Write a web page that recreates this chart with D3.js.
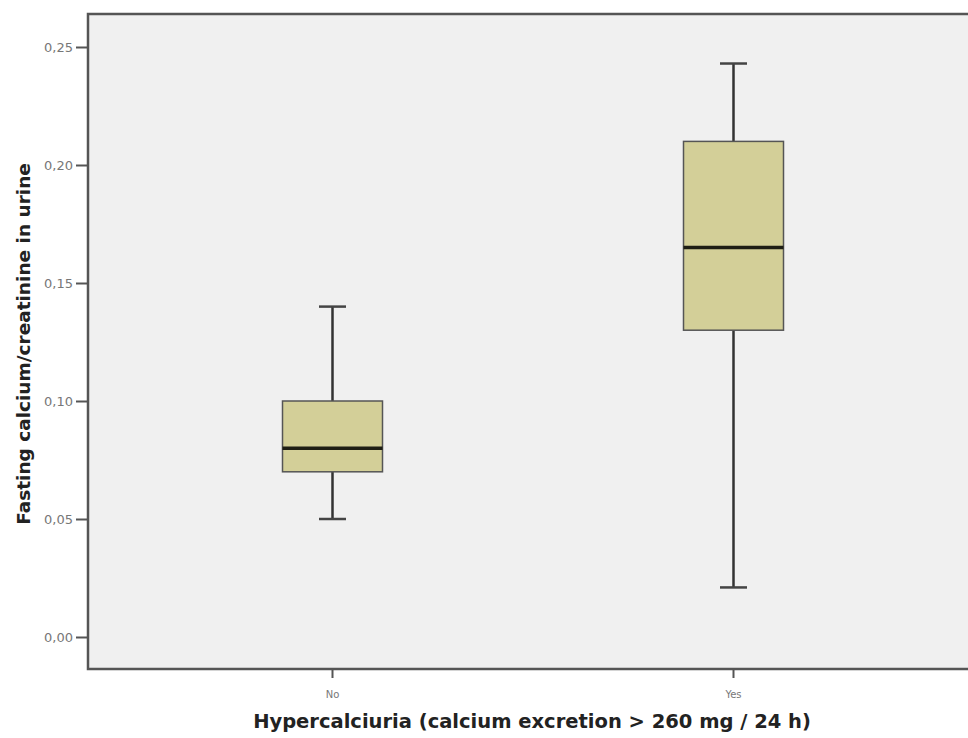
<!DOCTYPE html>
<html><head><meta charset="utf-8">
<script src="https://cdn.jsdelivr.net/npm/d3@7"></script>
<style>body{margin:0;background:#fff}svg{display:block}</style>
</head><body>
<svg id="c" width="968" height="738"></svg>
<script>
const categories = ["No", "Yes"];
const whiskerLow = [0.05, 0.021];
const q1 = [0.07, 0.13];
const median = [0.08, 0.165];
const q3 = [0.10, 0.21];
const whiskerHigh = [0.14, 0.243];
const yTicks = [0, 0.05, 0.10, 0.15, 0.20, 0.25];

const svg = d3.select("#c");
const L = 88, T = 14, R = 970, B = 669;
const y = d3.scaleLinear().domain([0, 0.25]).range([637, 47]);
const x = d3.scaleBand().domain(categories).range([132, 934]).paddingInner(0).paddingOuter(0);

svg.append("rect").attr("x", L).attr("y", T).attr("width", R - L).attr("height", B - T).attr("fill", "#f0f0f0");

const fmt = d => d3.format(".2f")(d).replace(".", ",");
const yAxis = svg.append("g").attr("transform", `translate(${L},0)`)
  .call(d3.axisLeft(y).tickValues(yTicks).tickFormat(fmt).tickSize(12).tickPadding(3));
yAxis.select(".domain").remove();
yAxis.selectAll("line").attr("stroke", "#555").attr("stroke-width", 2);
yAxis.selectAll("text").attr("fill", "#777").style("font", "13px 'DejaVu Sans', sans-serif");

const xAxis = svg.append("g").attr("transform", `translate(0,${B})`)
  .call(d3.axisBottom(x).tickSize(9).tickPadding(0));
xAxis.select(".domain").remove();
xAxis.selectAll("line").attr("stroke", "#555").attr("stroke-width", 2);
xAxis.selectAll("text").attr("fill", "#777").attr("dy", null).attr("y", 29)
  .style("font", "10px 'DejaVu Sans', sans-serif");

// frame
svg.append("path").attr("d", `M${R},${T}H${L}V${B}H${R}`).attr("fill", "none").attr("stroke", "#555").attr("stroke-width", 2.5);

const bw = 100, cap = 27;
categories.forEach((c, i) => {
  const cx = x(c) + x.bandwidth() / 2;
  const g = svg.append("g");
  g.append("line").attr("x1", cx).attr("x2", cx).attr("y1", y(whiskerHigh[i])).attr("y2", y(q3[i])).attr("stroke", "#333").attr("stroke-width", 2.5);
  g.append("line").attr("x1", cx).attr("x2", cx).attr("y1", y(q1[i])).attr("y2", y(whiskerLow[i])).attr("stroke", "#333").attr("stroke-width", 2.5);
  g.append("line").attr("x1", cx - cap / 2).attr("x2", cx + cap / 2).attr("y1", y(whiskerHigh[i])).attr("y2", y(whiskerHigh[i])).attr("stroke", "#444").attr("stroke-width", 2.5);
  g.append("line").attr("x1", cx - cap / 2).attr("x2", cx + cap / 2).attr("y1", y(whiskerLow[i])).attr("y2", y(whiskerLow[i])).attr("stroke", "#444").attr("stroke-width", 2.5);
  g.append("rect").attr("x", cx - bw / 2).attr("width", bw).attr("y", y(q3[i])).attr("height", y(q1[i]) - y(q3[i]))
    .attr("fill", "#d3cf98").attr("stroke", "#555").attr("stroke-width", 1.5);
  g.append("line").attr("x1", cx - bw / 2).attr("x2", cx + bw / 2).attr("y1", y(median[i])).attr("y2", y(median[i])).attr("stroke", "#1e1e14").attr("stroke-width", 3.5);
});

svg.append("text").attr("x", 532).attr("y", 728).attr("text-anchor", "middle")
  .attr("fill", "#222").style("font", "bold 19.5px 'DejaVu Sans', sans-serif")
  .text("Hypercalciuria (calcium excretion > 260 mg / 24 h)");
svg.append("text").attr("transform", "translate(30,344) rotate(-90)").attr("text-anchor", "middle")
  .attr("fill", "#222").style("font", "bold 18.5px 'DejaVu Sans', sans-serif")
  .text("Fasting calcium/creatinine in urine");
</script>
</body></html>
